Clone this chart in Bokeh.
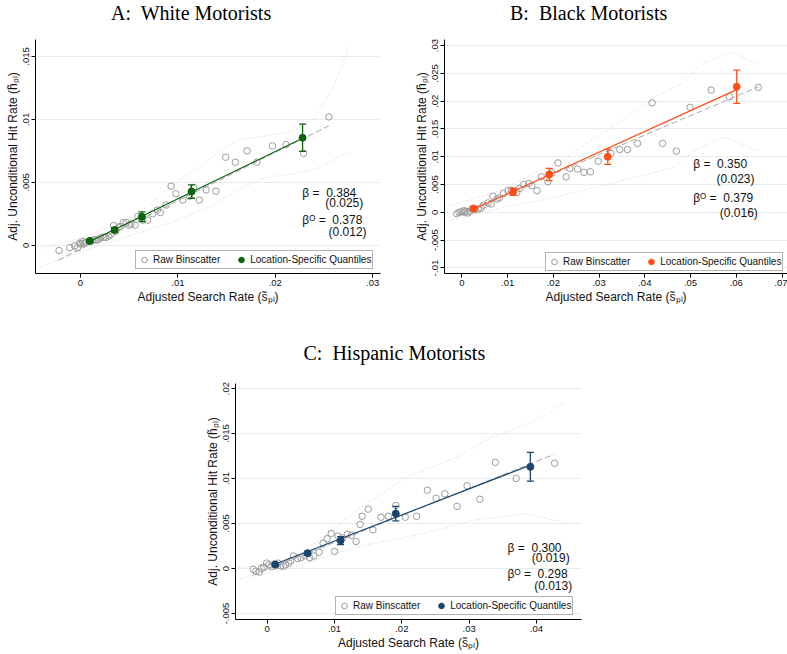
from bokeh.plotting import figure
from bokeh.models import (Range1d, FixedTicker, Label, Legend, LegendItem, Whisker,
                          TeeHead, ColumnDataSource, Spacer, Div)
from bokeh.layouts import row, column
from bokeh.embed import file_html
from bokeh.resources import INLINE

SANS = "Liberation Sans"
SERIF = "Liberation Serif"
NBSP = "\u00a0"

# ---------------- Panel A: White motorists ----------------
white_raw_x = [-0.0022, -0.0011, -0.0006, -0.0003, -0.0001, 0.0000, 0.0002, 0.0003, 0.0004, 0.0006,
               0.0009, 0.0012, 0.0015, 0.0017, 0.0019, 0.0021, 0.0024, 0.0026, 0.0029, 0.0031,
               0.0034, 0.0036, 0.0039, 0.0041, 0.0044, 0.0047, 0.0050, 0.0052, 0.0056, 0.0059,
               0.0064, 0.0069, 0.0074, 0.0079, 0.0082, 0.0088, 0.0093, 0.0098, 0.0105, 0.0112,
               0.0116, 0.0122, 0.0129, 0.0139, 0.0149, 0.0159, 0.0171, 0.0181, 0.0197, 0.0211,
               0.0229, 0.0255]
white_raw_y = [-0.00042, -0.00018, -0.00005, -0.00020, 0.00016, 0.00010, 0.00030, 0.00012, 0.00020, 0.00025,
               0.00035, 0.00038, 0.00045, 0.00040, 0.00050, 0.00060, 0.00065, 0.00062, 0.00073, 0.00085,
               0.00156, 0.00110, 0.00140, 0.00150, 0.00180, 0.00180, 0.00160, 0.00170, 0.00160, 0.00230,
               0.00200, 0.00200, 0.00250, 0.00280, 0.00260, 0.00320, 0.00470, 0.00410, 0.00360, 0.00390,
               0.00460, 0.00360, 0.00440, 0.00430, 0.00700, 0.00660, 0.00750, 0.00660, 0.00790, 0.00800,
               0.00730, 0.01020]
white_q_x = [0.00096, 0.0035, 0.0063, 0.0114, 0.0228]
white_q_y = [0.00034, 0.00122, 0.00227, 0.00427, 0.00854]
white_q_err = [0.00012, 0.00018, 0.00038, 0.00053, 0.00108]
white_q_fit = (-0.00006, 0.3755)          # intercept, slope of quantile fit line
white_raw_fit = (-0.0003, 0.384)          # intercept, slope of raw binscatter fit
white_raw_fit_x = (-0.0023, 0.0255)
white_band_up_x = [-0.0041, 0.0000, 0.0058, 0.0096, 0.0123, 0.0150, 0.0164, 0.0191, 0.0219, 0.0239, 0.0260, 0.0275]
white_band_up_y = [-0.00023, 0.00055, 0.0024, 0.0049, 0.0063, 0.0079, 0.0084, 0.0087, 0.0091, 0.0100, 0.0126, 0.0157]
white_band_lo_x = [-0.0041, 0.0000, 0.0055, 0.0096, 0.0137, 0.0164, 0.0191, 0.0219, 0.0243, 0.0275]
white_band_lo_y = [-0.00174, -0.0005, 0.00086, 0.0019, 0.0032, 0.0045, 0.0054, 0.0057, 0.0061, 0.0074]
white_stats = ("0.384", "0.025", "0.378", "0.012")
white_x_ticks = [0, 0.01, 0.02, 0.03]
white_x_labels = ["0", ".01", ".02", ".03"]
white_y_ticks = [0, 0.005, 0.01, 0.015]
white_y_labels = ["0", ".005", ".01", ".015"]

# ---------------- Panel B: Black motorists ----------------
black_raw_x = [-0.0011, -0.0006, -0.0001, 0.0004, 0.0006, 0.0009, 0.0013, 0.0018, 0.0022, 0.0029,
               0.0036, 0.0042, 0.0047, 0.0057, 0.0064, 0.0068, 0.0077, 0.0082, 0.0091, 0.0101,
               0.0108, 0.0120, 0.0126, 0.0135, 0.0146, 0.0153, 0.0164, 0.0174, 0.0188, 0.0197,
               0.0210, 0.0228, 0.0236, 0.0253, 0.0267, 0.0281, 0.0298, 0.0326, 0.0345, 0.0362,
               0.0384, 0.0416, 0.0439, 0.0469, 0.0499, 0.0545, 0.0585, 0.0648]
black_raw_y = [-0.00024, 0.0000, 0.0001, 0.0003, 0.0000, 0.0002, -0.0001, 0.0002, 0.0006, 0.0005,
               0.0006, 0.0008, 0.0013, 0.0017, 0.0015, 0.0029, 0.0024, 0.0026, 0.0034, 0.0039,
               0.0040, 0.0036, 0.0043, 0.0050, 0.0052, 0.0048, 0.0039, 0.0064, 0.0055, 0.0071,
               0.0089, 0.0064, 0.0079, 0.0078, 0.0072, 0.0073, 0.0092, 0.0106, 0.0113, 0.0113,
               0.0124, 0.0197, 0.0124, 0.0110, 0.0189, 0.0220, 0.0208, 0.0225]
black_q_x = [0.0026, 0.0112, 0.0191, 0.0319, 0.0601]
black_q_y = [0.0007, 0.0037, 0.0068, 0.0100, 0.0226]
black_q_err = [0.0003, 0.00065, 0.0011, 0.00137, 0.0030]
black_q_fit = (-0.0004, 0.374)
black_raw_fit = (-0.0001, 0.350)
black_raw_fit_x = (-0.0012, 0.0648)
black_band_up_x = [-0.0026, 0.0073, 0.0219, 0.0365, 0.0423, 0.0482, 0.0526, 0.0591, 0.0650]
black_band_up_y = [0.0012, 0.0036, 0.0095, 0.0173, 0.0208, 0.0232, 0.0268, 0.0289, 0.0265]
black_band_lo_x = [-0.0026, 0.0073, 0.0219, 0.0365, 0.0460, 0.0511, 0.0573, 0.0650]
black_band_lo_y = [-0.0015, 0.0006, 0.0030, 0.0060, 0.0080, 0.0113, 0.0135, 0.0110]
black_stats = ("0.350", "0.023", "0.379", "0.016")
black_x_ticks = [0, 0.01, 0.02, 0.03, 0.04, 0.05, 0.06, 0.07]
black_x_labels = ["0", ".01", ".02", ".03", ".04", ".05", ".06", ".07"]
black_y_ticks = [-0.01, -0.005, 0, 0.005, 0.01, 0.015, 0.02, 0.025, 0.03]
black_y_labels = ["-.01", "-.005", "0", ".005", ".01", ".015", ".02", ".025", ".03"]

# ---------------- Panel C: Hispanic motorists ----------------
hisp_raw_x = [-0.0021, -0.0017, -0.0012, -0.0009, -0.0005, -0.0001, 0.0002, 0.0006, 0.0010, 0.0013,
              0.0016, 0.0020, 0.0024, 0.0027, 0.0032, 0.0035, 0.0039, 0.0045, 0.0050, 0.0056,
              0.0063, 0.0069, 0.0077, 0.0083, 0.0089, 0.0095, 0.0100, 0.0105, 0.0112, 0.0119,
              0.0125, 0.0132, 0.0138, 0.0141, 0.0150, 0.0157, 0.0169, 0.0180, 0.0191, 0.0205,
              0.0222, 0.0238, 0.0251, 0.0264, 0.0282, 0.0297, 0.0316, 0.0339, 0.0370, 0.0427]
hisp_raw_y = [-0.0001, -0.0003, -0.0004, 0.0000, 0.00015, 0.0006, 0.0004, 0.0002, 0.0005, 0.0003,
              0.0006, 0.0003, 0.00026, 0.0004, 0.0006, 0.00085, 0.0014, 0.0011, 0.0012, 0.0014,
              0.0012, 0.0014, 0.0018, 0.0028, 0.0033, 0.0039, 0.0019, 0.0036, 0.0034, 0.0038,
              0.0037, 0.0030, 0.0049, 0.0058, 0.0066, 0.0043, 0.0057, 0.0058, 0.0070, 0.0057,
              0.0058, 0.0087, 0.0078, 0.0083, 0.0069, 0.0092, 0.0077, 0.0118, 0.0100, 0.0117]
hisp_q_x = [0.0012, 0.0060, 0.0109, 0.0191, 0.0391]
hisp_q_y = [0.00044, 0.0017, 0.0031, 0.0061, 0.0113]
hisp_q_err = [0.00012, 0.0002, 0.00045, 0.0008, 0.0016]
hisp_q_fit = (0.00015, 0.29)
hisp_raw_fit = (-0.0001, 0.300)
hisp_raw_fit_x = (-0.0022, 0.0426)
hisp_band_up_x = [-0.0042, 0.0035, 0.0084, 0.0134, 0.0208, 0.0283, 0.0333, 0.0382, 0.0417, 0.0442]
hisp_band_up_y = [0.0001, 0.0009, 0.0035, 0.0065, 0.0102, 0.0124, 0.0146, 0.0159, 0.0172, 0.0185]
hisp_band_lo_x = [-0.0040, 0.0035, 0.0134, 0.0233, 0.0308, 0.0382, 0.0442]
hisp_band_lo_y = [-0.0011, 0.0001, 0.0024, 0.0039, 0.0054, 0.0061, 0.0051]
hisp_stats = ("0.300", "0.019", "0.298", "0.013")
hisp_x_ticks = [0, 0.01, 0.02, 0.03, 0.04]
hisp_x_labels = ["0", ".01", ".02", ".03", ".04"]
hisp_y_ticks = [-0.005, 0, 0.005, 0.01, 0.015, 0.02]
hisp_y_labels = ["-.005", "0", ".005", ".01", ".015", ".02"]

GREEN = "#0b640b"
ORANGE = "#ff4f17"
NAVY = "#1a476f"
RAW_GRAY = "#9c9c9c"
GRID = "#e4edf0"


def build(title, title_offset, width, height, borders, xr, yr,
          x_ticks, x_labels, y_ticks, y_labels,
          raw_x, raw_y, q_x, q_y, q_err, q_fit, raw_fit, raw_fit_x,
          up_x, up_y, lo_x, lo_y, color, stats, stat_pos, legend_loc):
    p = figure(width=width, height=height, output_backend="svg", toolbar_location=None,
               x_range=Range1d(*xr), y_range=Range1d(*yr),
               min_border_left=borders[0], min_border_right=borders[1],
               min_border_top=borders[2], min_border_bottom=borders[3],
               title=title)
    p.outline_line_color = None
    p.background_fill_color = "white"
    p.border_fill_color = "white"

    if title:
        p.title.text_font = SERIF
        p.title.text_font_size = "20px"
        p.title.text_font_style = "normal"
        p.title.text_color = "black"
        p.title.align = "left"
        p.title.vertical_align = "top"
        p.title.offset = title_offset
        p.title.standoff = 36

    # axes
    for ax in (p.xaxis[0], p.yaxis[0]):
        ax.major_tick_out = 4
        ax.major_tick_in = 0
        ax.minor_tick_line_color = None
        ax.axis_line_color = "black"
        ax.major_tick_line_color = "black"
        ax.major_label_text_font = SANS
        ax.major_label_text_font_size = "9.5px"
        ax.major_label_text_color = "#111111"
        ax.axis_label_text_font = SANS
        ax.axis_label_text_font_size = "12px"
        ax.axis_label_text_font_style = "normal"
        ax.axis_label_text_color = "#111111"
        ax.major_label_standoff = 2
        ax.axis_label_standoff = 1
    p.xaxis[0].ticker = FixedTicker(ticks=x_ticks)
    p.xaxis[0].major_label_overrides = dict(zip(x_ticks, x_labels))
    p.yaxis[0].ticker = FixedTicker(ticks=y_ticks)
    p.yaxis[0].major_label_overrides = dict(zip(y_ticks, y_labels))
    p.yaxis[0].major_label_orientation = "vertical"
    p.xaxis[0].axis_label = "Adjusted Search Rate (s\u0303\u209a\u2097)"
    p.yaxis[0].axis_label = "Adj. Unconditional Hit Rate (h\u0303\u209a\u2097)"
    p.xgrid.visible = False
    p.ygrid.ticker = FixedTicker(ticks=y_ticks)
    p.ygrid.grid_line_color = GRID
    p.ygrid.grid_line_width = 1

    # confidence bands (dotted)
    p.line(up_x, up_y, line_color="#d2d2d2", line_dash="1 2", line_width=1)
    p.line(lo_x, lo_y, line_color="#d2d2d2", line_dash="1 2", line_width=1)

    # raw binscatter
    r_raw = p.scatter(raw_x, raw_y, marker="circle", size=6.5, fill_color=None,
                      line_color=RAW_GRAY, line_width=1)

    # raw fit (dashed)
    rx = list(raw_fit_x)
    p.line(rx, [raw_fit[0] + raw_fit[1] * v for v in rx], line_color="#a8a8a8",
           line_dash="6 3", line_width=1)

    # quantile fit
    qx = [min(q_x), max(q_x)]
    p.line(qx, [q_fit[0] + q_fit[1] * v for v in qx], line_color=color, line_width=1.2)

    src = ColumnDataSource(dict(x=q_x, y=q_y,
                                lower=[a - b for a, b in zip(q_y, q_err)],
                                upper=[a + b for a, b in zip(q_y, q_err)]))
    wh = Whisker(source=src, base="x", lower="lower", upper="upper", dimension="height",
                 line_color=color, line_width=1.3,
                 upper_head=TeeHead(size=7, line_color=color, line_width=1.3),
                 lower_head=TeeHead(size=7, line_color=color, line_width=1.3),
                 level="glyph")
    p.add_layout(wh)
    r_q = p.scatter("x", "y", source=src, marker="circle", size=7,
                    fill_color=color, line_color=color)

    # statistics text
    texts = ["\u03b2 =" + NBSP + NBSP + stats[0], "(" + stats[1] + ")",
             "\u03b2\u1d3c =" + NBSP + NBSP + stats[2], "(" + stats[3] + ")"]
    for t, (sx, sy) in zip(texts, stat_pos):
        p.add_layout(Label(x=sx, y=sy, text=t, text_font=SANS, text_font_size="12px",
                           text_baseline="middle", text_align="left", text_color="#111111"))

    legend = Legend(items=[LegendItem(label="Raw Binscatter", renderers=[r_raw]),
                           LegendItem(label="Location-Specific Quantiles", renderers=[r_q])],
                    orientation="horizontal", location=legend_loc, margin=0, padding=1,
                    spacing=14, glyph_width=14, glyph_height=15, label_height=12,
                    label_standoff=2, label_text_font=SANS, label_text_font_size="10px",
                    label_text_color="#111111",
                    border_line_color="#666666", border_line_width=1,
                    background_fill_color="white", background_fill_alpha=1.0)
    p.add_layout(legend)
    return p


def title_div(text, width, indent):
    return Div(text=text, width=width, height=26,
               styles={"font-family": SERIF, "font-size": "20px", "line-height": "26px",
                       "color": "black", "text-indent": f"{indent}px",
                       "white-space": "nowrap", "margin": "0", "padding": "0"})


tA = title_div("A:&nbsp; White Motorists", 395, 111)
tB = title_div("B:&nbsp; Black Motorists", 392, 115)

pA = build(None, 0, 395, 294, (35, 15, 9, 47),
           (-0.00462, 0.0308), (-0.00224, 0.01635),
           white_x_ticks, white_x_labels, white_y_ticks, white_y_labels,
           white_raw_x, white_raw_y, white_q_x, white_q_y, white_q_err,
           white_q_fit, white_raw_fit, white_raw_fit_x,
           white_band_up_x, white_band_up_y, white_band_lo_x, white_band_lo_y,
           GREEN, white_stats,
           [(0.02277, 0.00419), (0.02513, 0.00338), (0.02277, 0.00205), (0.02547, 0.00104)],
           (100, 4))

pB = build(None, 0, 392, 294, (49, 0, 13, 45),
           (-0.0038, 0.0712), (-0.011, 0.0311),
           black_x_ticks, black_x_labels, black_y_ticks, black_y_labels,
           black_raw_x, black_raw_y, black_q_x, black_q_y, black_q_err,
           black_q_fit, black_raw_fit, black_raw_fit_x,
           black_band_up_x, black_band_up_y, black_band_lo_x, black_band_lo_y,
           ORANGE, black_stats,
           [(0.05058, 0.00875), (0.05568, 0.00607), (0.05058, 0.0025), (0.0564, -0.00018)],
           (101, 2))

pC = build("C:" + NBSP + NBSP + "Hispanic Motorists", 68, 400, 334, (45, 9, 63, 35),
           (-0.00472, 0.0467), (-0.00567, 0.02056),
           hisp_x_ticks, hisp_x_labels, hisp_y_ticks, hisp_y_labels,
           hisp_raw_x, hisp_raw_y, hisp_q_x, hisp_q_y, hisp_q_err,
           hisp_q_fit, hisp_raw_fit, hisp_raw_fit_x,
           hisp_band_up_x, hisp_band_up_y, hisp_band_lo_x, hisp_band_lo_y,
           NAVY, hisp_stats,
           [(0.03571, 0.00229), (0.03929, 0.00111), (0.03571, -0.00056), (0.03967, -0.00197)],
           (100, 4))

layout = column(row(tA, tB), row(pA, pB), row(Spacer(width=190, height=334), pC))
open("out.html", "w").write(file_html(layout, INLINE))
